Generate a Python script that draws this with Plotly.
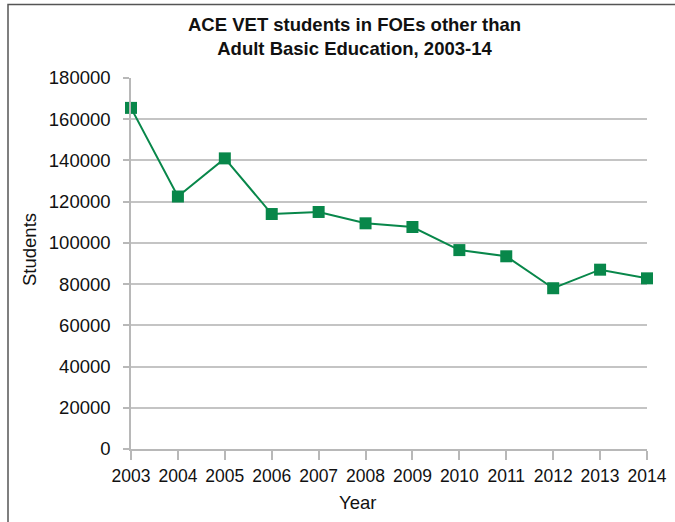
import plotly.graph_objects as go

# ACE VET student counts, fields of education other than Adult Basic Education
years = [2003, 2004, 2005, 2006, 2007, 2008, 2009, 2010, 2011, 2012, 2013, 2014]
students = [165500, 122500, 141000, 114000, 115000, 109500, 107700, 96500, 93500, 78000, 87000, 82800]
y_ticks = [0, 20000, 40000, 60000, 80000, 100000, 120000, 140000, 160000, 180000]

GREEN = "#08874A"
FONT = "Liberation Sans, Arial, sans-serif"
TEXT = "#111111"

W, H = 675, 522
L, R, T, B = 131, 28, 78, 73
PW, PH = W - L - R, H - T - B


def px_x(x):
    """Pixel column -> paper x."""
    return (x - L) / PW


def px_y(y):
    """Pixel row (from top) -> paper y."""
    return 1 - (y - T) / PH


fig = go.Figure(
    go.Scatter(
        x=years,
        y=students,
        mode="lines+markers",
        line=dict(color=GREEN, width=2),
        marker=dict(symbol="square", size=12, color=GREEN),
        cliponaxis=False,
        showlegend=False,
    )
)

fig.update_layout(
    width=W,
    height=H,
    margin=dict(l=L, r=R, t=T, b=B, autoexpand=False),
    paper_bgcolor="white",
    plot_bgcolor="white",
    font=dict(family=FONT, color=TEXT, size=17),
    shapes=[
        dict(
            type="rect",
            xref="paper",
            yref="paper",
            x0=px_x(8),
            x1=px_x(W + 10),
            y0=px_y(H + 10),
            y1=px_y(4.5),
            line=dict(color="#555555", width=1.5),
            fillcolor="rgba(0,0,0,0)",
            layer="below",
        )
    ],
    annotations=[
        dict(
            text="<b>ACE VET students in FOEs other than<br>Adult Basic Education, 2003-14</b>",
            xref="paper",
            yref="paper",
            x=px_x(354.5),
            y=px_y(12),
            xanchor="center",
            yanchor="top",
            showarrow=False,
            font=dict(family=FONT, size=18.5, color=TEXT),
        ),
        dict(
            text="Students",
            xref="paper",
            yref="paper",
            x=px_x(29),
            y=px_y(250),
            xanchor="center",
            yanchor="middle",
            textangle=-90,
            showarrow=False,
            font=dict(family=FONT, size=18.5, color=TEXT),
        ),
        dict(
            text="Year",
            xref="paper",
            yref="paper",
            x=px_x(357),
            y=px_y(502),
            xanchor="center",
            yanchor="middle",
            showarrow=False,
            font=dict(family=FONT, size=18.5, color=TEXT),
        ),
    ],
)

fig.update_xaxes(
    range=[2003, 2014],
    tickmode="array",
    tickvals=years,
    ticktext=[str(y) for y in years],
    showgrid=False,
    showline=True,
    linecolor="#b8b8b8",
    linewidth=1.5,
    ticks="outside",
    ticklen=9,
    tickcolor="#b8b8b8",
    tickwidth=1.5,
    ticklabelstandoff=1,
    tickfont=dict(size=17.5),
    zeroline=False,
    automargin=False,
)

fig.update_yaxes(
    range=[0, 180000],
    tickmode="array",
    tickvals=y_ticks,
    ticktext=[str(v) for v in y_ticks],
    showgrid=True,
    gridcolor="#c4c4c4",
    gridwidth=1.5,
    showline=True,
    linecolor="#b8b8b8",
    linewidth=1.5,
    ticks="outside",
    ticklen=6,
    tickcolor="#b8b8b8",
    tickwidth=1.5,
    ticklabelstandoff=9,
    tickfont=dict(size=18.5),
    zeroline=False,
    automargin=False,
)

fig.write_html("out.html")
